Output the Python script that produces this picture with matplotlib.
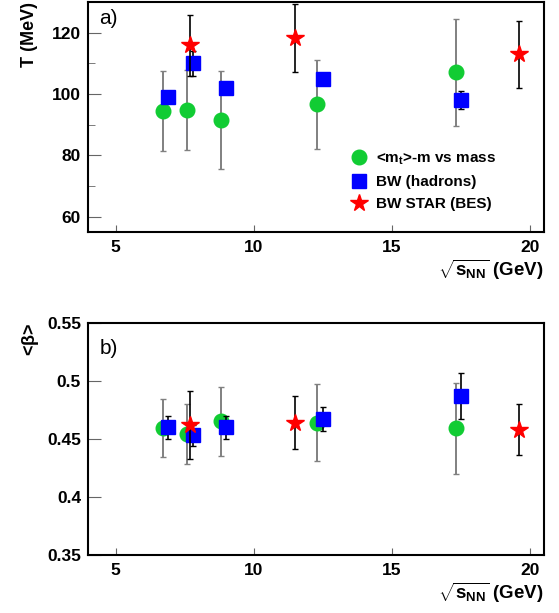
import numpy as np
import matplotlib
matplotlib.use('Agg')
import matplotlib.pyplot as plt
from matplotlib.ticker import MultipleLocator
from matplotlib.lines import Line2D

plt.rcParams['font.family'] = ['Liberation Sans', 'DejaVu Sans']
plt.rcParams['mathtext.fontset'] = 'custom'
plt.rcParams['mathtext.rm'] = 'Liberation Sans:bold'
plt.rcParams['mathtext.bf'] = 'Liberation Sans:bold'
plt.rcParams['mathtext.it'] = 'Liberation Sans:bold'

# <mt>-m vs mass
mt_x = [6.7, 7.6, 8.8, 12.3, 17.3]
mt_T = [94.5, 94.8, 91.6, 96.6, 107.1]
mt_T_err = [13.0, 13.0, 16.0, 14.5, 17.5]
mt_beta = [0.459, 0.454, 0.465, 0.464, 0.459]
mt_beta_err = [0.025, 0.026, 0.030, 0.033, 0.039]

# BW (hadrons)
bw_x = [6.9, 7.8, 9.0, 12.5, 17.5]
bw_T = [98.9, 110.0, 102.0, 104.9, 98.0]
bw_T_err = [1.5, 4.0, 1.5, 1.5, 3.0]
bw_beta = [0.460, 0.453, 0.460, 0.467, 0.487]
bw_beta_err = [0.010, 0.009, 0.010, 0.010, 0.020]

# BW STAR (BES)
star_x = [7.7, 11.5, 19.6]
star_T = [115.9, 118.2, 112.9]
star_T_err = [10.0, 11.0, 11.0]
star_beta = [0.462, 0.464, 0.458]
star_beta_err = [0.029, 0.023, 0.022]

labels = [r'<m$_{\mathrm{t}}$>-m vs mass', 'BW (hadrons)', 'BW STAR (BES)']

green = '#11cc33'
fig = plt.figure(figsize=(5.59, 6.13), dpi=100)
ax1 = fig.add_axes([0.1574, 0.6215, 0.8157, 0.3752])
ax2 = fig.add_axes([0.1574, 0.0946, 0.8157, 0.379])


def draw(ax, ym, ye, yb, ybe, ys, yse):
    ax.errorbar(mt_x, ym, yerr=ye, fmt='o', color=green, ms=10.5, ecolor='#808080',
                elinewidth=1.4, capsize=2, capthick=1, zorder=3)
    ax.errorbar(bw_x, yb, yerr=ybe, fmt='s', color='#0000ff', ms=9.5, ecolor='black',
                elinewidth=1.2, capsize=2, capthick=1, zorder=4)
    ax.errorbar(star_x, ys, yerr=yse, fmt='*', color='#ff0000', ms=13, ecolor='black',
                elinewidth=1.2, capsize=2, capthick=1, zorder=5)
    ax.set_xlim(4, 20.5)
    ax.xaxis.set_major_locator(MultipleLocator(5))
    ax.tick_params(axis='x', direction='in', length=5, color='#666666', labelsize=12.5, pad=6)
    ax.tick_params(axis='y', direction='in', length=9.5, color='#666666', labelsize=12.5, pad=5)
    ax.tick_params(which='minor', direction='in', length=5, color='#666666')
    for s in ax.spines.values():
        s.set_linewidth(1.5)
    ax.set_xlabel(r'$\sqrt{\mathbf{s}_{\mathbf{NN}}}$ (GeV)', fontsize=13.5, fontweight='bold',
                  loc='right', labelpad=2)


draw(ax1, mt_T, mt_T_err, bw_T, bw_T_err, star_T, star_T_err)
ax1.set_ylim(55, 130)
ax1.yaxis.set_major_locator(MultipleLocator(20))
ax1.yaxis.set_minor_locator(MultipleLocator(10))
ax1.set_ylabel('T (MeV)', fontsize=13, fontweight='bold', loc='top', labelpad=10)
ax1.text(0.025, 0.97, 'a)', transform=ax1.transAxes, fontsize=15, va='top')
for lab in ax1.get_xticklabels() + ax1.get_yticklabels():
    lab.set_fontweight('bold')

handles = [Line2D([], [], ls='none', marker='o', color=green, ms=10.5),
           Line2D([], [], ls='none', marker='s', color='#0000ff', ms=9.5),
           Line2D([], [], ls='none', marker='*', color='#ff0000', ms=13)]
ax1.legend(handles, labels, loc='lower left', bbox_to_anchor=(0.545, 0.03), frameon=False,
           prop={'weight': 'bold', 'size': 11}, handletextpad=0.5, labelspacing=0.55,
           handlelength=1.2)

draw(ax2, mt_beta, mt_beta_err, bw_beta, bw_beta_err, star_beta, star_beta_err)
ax2.set_ylim(0.35, 0.55)
ax2.set_yticks([0.35, 0.4, 0.45, 0.5, 0.55])
ax2.set_yticklabels(['0.35', '0.4', '0.45', '0.5', '0.55'])
ax2.set_ylabel(r'<$\beta$>', fontsize=13, fontweight='bold', loc='top', labelpad=4)
ax2.text(0.025, 0.93, 'b)', transform=ax2.transAxes, fontsize=15, va='top')
for lab in ax2.get_xticklabels() + ax2.get_yticklabels():
    lab.set_fontweight('bold')

fig.savefig('out.png', dpi=100)
